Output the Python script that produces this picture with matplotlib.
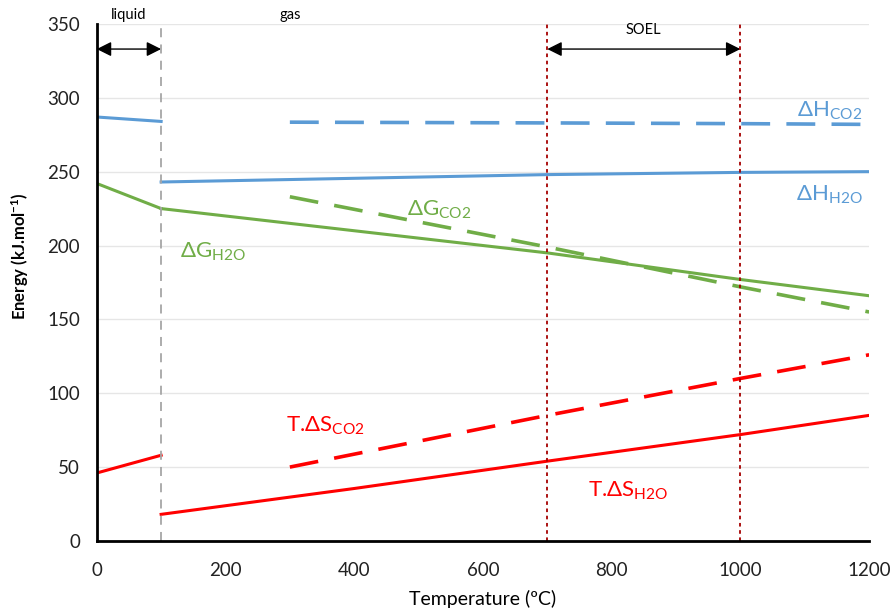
import matplotlib.pyplot as plt
from matplotlib.patches import FancyArrowPatch

# temperatures (degC) and energies (kJ/mol)
t_liq = [0, 100]
dh_h2o_liq = [287, 284]
dg_h2o_liq = [242, 225]
tds_h2o_liq = [46, 58]

t_gas = [100, 400, 700, 1000, 1200]
dh_h2o_gas = [243, 245.5, 248, 249.5, 250]
dg_h2o_gas = [225, 210, 195, 177, 166]
tds_h2o_gas = [18, 35.5, 54, 72, 85]

t_co2 = [300, 700, 1000, 1200]
dh_co2 = [283.5, 283, 282.5, 282]
dg_co2 = [233, 199, 172, 155]
tds_co2 = [50, 85, 110, 126]

x_ticks = [0, 200, 400, 600, 800, 1000, 1200]
y_ticks = [0, 50, 100, 150, 200, 250, 300, 350]

BLUE = "#5b9bd5"
GREEN = "#70ad47"
RED = "#ff0000"
DARKRED = "#a50000"
GRAY = "#a6a6a6"

plt.rcParams.update({
    "font.family": ["Lato", "DejaVu Sans"],
    "mathtext.fontset": "custom",
    "mathtext.rm": "Lato",
    "mathtext.bf": "Lato:bold",
    "mathtext.default": "rm",
})

fig = plt.figure(figsize=(8.96, 6.14), dpi=100)
ax = fig.add_axes([0.108, 0.119, 0.862, 0.842])

lw = 2.2
dash = (8, 4.5)
ax.plot(t_liq, dh_h2o_liq, color=BLUE, lw=lw)
ax.plot(t_gas, dh_h2o_gas, color=BLUE, lw=lw)
ax.plot(t_co2, dh_co2, color=BLUE, lw=2.6, dashes=dash)
ax.plot(t_liq, dg_h2o_liq, color=GREEN, lw=lw)
ax.plot(t_gas, dg_h2o_gas, color=GREEN, lw=lw)
ax.plot(t_co2, dg_co2, color=GREEN, lw=2.6, dashes=dash)
ax.plot(t_liq, tds_h2o_liq, color=RED, lw=lw)
ax.plot(t_gas, tds_h2o_gas, color=RED, lw=lw)
ax.plot(t_co2, tds_co2, color=RED, lw=2.6, dashes=dash)

# phase / operating window markers
ax.plot([100, 100], [0, 350], color=GRAY, lw=1.3, dashes=(5, 4))
for xv in (700, 1000):
    ax.plot([xv, xv], [0, 350], color=DARKRED, lw=1.3, dashes=(2, 2))

for x0, x1 in [(0, 100), (700, 1000)]:
    ax.add_patch(FancyArrowPatch((x0, 333), (x1, 333), arrowstyle="<|-|>",
                                 mutation_scale=22, lw=1.0, color="black",
                                 shrinkA=0, shrinkB=0))

ax.text(50, 351, "liquid", ha="center", va="bottom", fontsize=10.5)
ax.text(300, 351, "gas", ha="center", va="bottom", fontsize=10.5)
ax.text(850, 341, "SOEL", ha="center", va="bottom", fontsize=10.5)

fs = 16
ax.text(1138, 291, r"ΔH$_{\mathrm{CO2}}$", color=BLUE, fontsize=fs, ha="center", va="center")
ax.text(1138, 234, r"ΔH$_{\mathrm{H2O}}$", color=BLUE, fontsize=fs, ha="center", va="center")
ax.text(532, 224, r"ΔG$_{\mathrm{CO2}}$", color=GREEN, fontsize=fs, ha="center", va="center")
ax.text(180, 196, r"ΔG$_{\mathrm{H2O}}$", color=GREEN, fontsize=fs, ha="center", va="center")
ax.text(355, 78, r"T.ΔS$_{\mathrm{CO2}}$", color=RED, fontsize=fs, ha="center", va="center")
ax.text(826, 34, r"T.ΔS$_{\mathrm{H2O}}$", color=RED, fontsize=fs, ha="center", va="center")

ax.set_xlim(0, 1200)
ax.set_ylim(0, 350)
ax.set_xticks(x_ticks)
ax.set_yticks(y_ticks)
ax.tick_params(length=0, labelsize=13.5, colors="#222222")
ax.tick_params(axis="x", pad=15)
ax.tick_params(axis="y", pad=12)
ax.grid(axis="y", color="#e6e6e6", lw=1.0)
ax.set_axisbelow(True)
for s in ("top", "right"):
    ax.spines[s].set_visible(False)
ax.spines["left"].set_linewidth(2.0)
ax.spines["bottom"].set_linewidth(2.0)

ax.set_xlabel("Temperature (ºC)", fontsize=14, labelpad=8)
ax.set_ylabel(r"Energy (kJ.mol$^{\mathbf{-1}}$)", fontsize=12, fontweight="bold", labelpad=10)
ax.yaxis.set_label_coords(-0.085, 0.55)

fig.savefig("out.png", dpi=100)
